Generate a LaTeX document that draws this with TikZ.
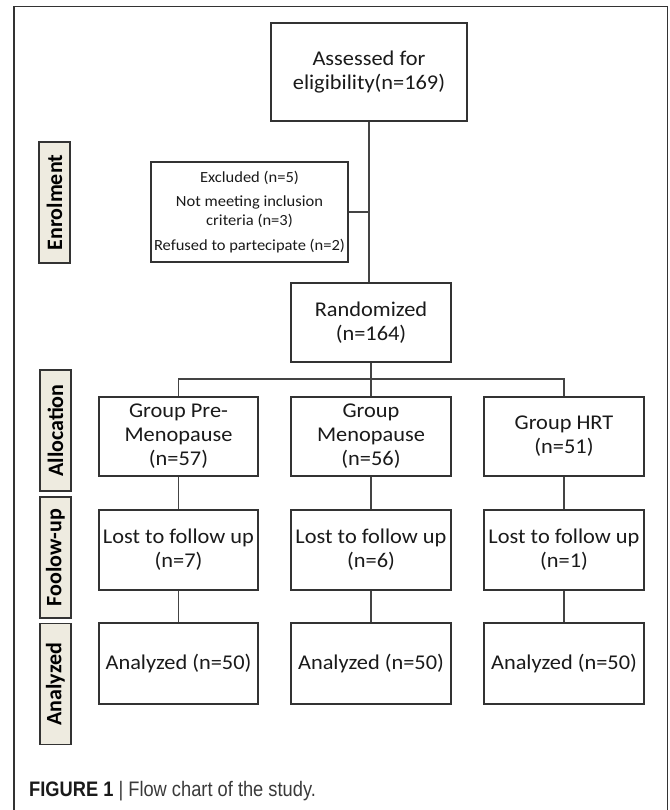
\documentclass[tikz,border=0pt]{standalone}
\usepackage{fontspec}
\setmainfont{Carlito}
\newfontfamily\boxfont[FakeStretch=1.065]{Carlito}
\newfontfamily\capfont{Liberation Sans}
\definecolor{boxc}{HTML}{333333}
\definecolor{linec}{HTML}{444444}
\definecolor{labfill}{HTML}{EEEBE0}
\definecolor{txtc}{HTML}{1A1A1A}
\definecolor{capgray}{HTML}{3A3A3A}
\tikzset{
  mbox/.style={draw=boxc, line width=1.4pt, inner sep=0pt, align=center, text=txtc,
    font=\boxfont\fontsize{21}{24}\selectfont},
  lab/.style={draw=boxc, fill=labfill, line width=1.6pt, rotate=90, inner sep=0pt,
    minimum width=121, minimum height=31, text=black, font=\bfseries\fontsize{22}{24}\selectfont},
  conn/.style={draw=linec, line width=1.5pt},
  frame/.style={draw=boxc, line width=1.2pt}
}
\begin{document}
\begin{tikzpicture}[x=1pt,y=-1pt]
\useasboundingbox (0,0) rectangle (669,810);
\draw[frame] (14,810) -- (14,6.5) -- (667.5,6.5) -- (667.5,810);

% main boxes
\node[mbox, minimum width=196, minimum height=98] (A) at (369,72) {Assessed for\\eligibility(n=169)};
\node[mbox, minimum width=197, minimum height=100, font=\boxfont\fontsize{15.5}{19}\selectfont] (Ex) at (249.5,212)
  {Excluded (n=5)\\[5pt]Not meeting inclusion\\criteria (n=3)\\[6pt]Refused to partecipate (n=2)};
\node[mbox, minimum width=160, minimum height=79] (R) at (371,322.5) {Randomized\\(n=164)};

\node[mbox, minimum width=159, minimum height=79] (G1) at (178.5,436.5) {Group Pre-\\Menopause\\(n=57)};
\node[mbox, minimum width=160, minimum height=79] (G2) at (371,436.5) {Group\\Menopause\\(n=56)};
\node[mbox, minimum width=160, minimum height=79] (G3) at (564,436.5) {Group HRT\\(n=51)};

\node[mbox, minimum width=159, minimum height=80] (L1) at (178.5,550) {Lost to follow up\\(n=7)};
\node[mbox, minimum width=160, minimum height=80] (L2) at (371,550) {Lost to follow up\\(n=6)};
\node[mbox, minimum width=160, minimum height=80] (L3) at (564,550) {Lost to follow up\\(n=1)};

\node[mbox, minimum width=159, minimum height=81] (N1) at (178.5,663.5) {Analyzed (n=50)};
\node[mbox, minimum width=160, minimum height=81] (N2) at (371,663.5) {Analyzed (n=50)};
\node[mbox, minimum width=160, minimum height=81] (N3) at (564,663.5) {Analyzed (n=50)};

% stage labels
\node[lab] (Le) at (54.5,202.5) {Enrolment};
\node[lab] (La) at (55.5,430.5) {Allocation};
\node[lab] (Lf) at (55.5,557.5) {Foolow-up};
\node[lab] (Ln) at (55.5,684) {Analyzed};

% connectors
\coordinate (br) at (371,379);
\draw[conn] (A.south) -- (A.south |- R.north);
\draw[conn] (Ex.east) -- (Ex.east -| A.south);
\draw[conn] (R.south) -- (R.south |- br);
\draw[conn] (G1.north) -- (G1.north |- br) -- (G3.north |- br) -- (G3.north);
\draw[conn] (G2.north) -- (G2.north |- br);
\draw[conn] (G1.south) -- (L1.north);
\draw[conn] (G2.south) -- (L2.north);
\draw[conn] (G3.south) -- (L3.north);
\draw[conn] (L1.south) -- (N1.north);
\draw[conn] (L2.south) -- (N2.north);
\draw[conn] (L3.south) -- (N3.north);

% caption
\node[anchor=base west, inner sep=0pt, font=\capfont\fontsize{21}{24}\selectfont] (cap) at (29,796.5)
  {\scalebox{0.87}[1]{\textcolor{txtc}{\bfseries FIGURE 1} \textcolor{capgray}{| Flow chart of the study.}}};
\end{tikzpicture}
\end{document}
